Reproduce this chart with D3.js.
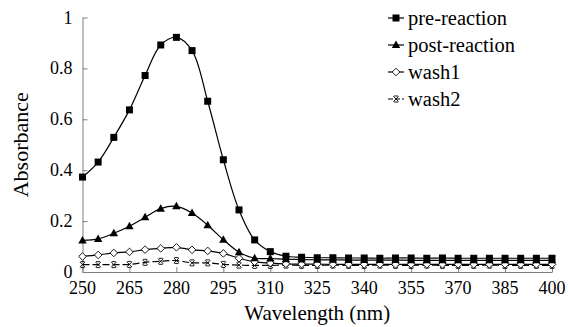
<html>
<head>
<meta charset="utf-8">
<script src="https://cdn.jsdelivr.net/npm/d3@7"></script>
</head>
<body style="margin:0">
<script>
const wavelengths = [250, 255, 260, 265, 270, 275, 280, 285, 290, 295, 300, 305, 310, 315, 320, 325,
    330, 335, 340, 345, 350, 355, 360, 365, 370, 375, 380, 385, 390, 395, 400];

const preReaction = [0.373, 0.432, 0.529, 0.637, 0.772, 0.892, 0.922, 0.870, 0.671, 0.441, 0.244, 0.126,
    0.080, 0.062, 0.058, 0.056, 0.056, 0.055, 0.055, 0.054, 0.055, 0.055, 0.054, 0.055, 0.054, 0.054,
    0.054, 0.054, 0.054, 0.054, 0.054];
const postReaction = [0.124, 0.130, 0.152, 0.180, 0.215, 0.249, 0.258, 0.232, 0.184, 0.127, 0.078, 0.054,
    0.053, 0.050, 0.049, 0.048, 0.048, 0.047, 0.047, 0.047, 0.047, 0.046, 0.046, 0.046, 0.046, 0.046,
    0.046, 0.046, 0.046, 0.046, 0.046];
const wash1 = [0.061, 0.067, 0.075, 0.079, 0.088, 0.093, 0.097, 0.087, 0.083, 0.073, 0.054, 0.040,
    0.035, 0.032, 0.031, 0.031, 0.030, 0.030, 0.030, 0.030, 0.030, 0.030, 0.030, 0.030, 0.030, 0.030,
    0.030, 0.030, 0.030, 0.030, 0.030];
const wash2 = [0.029, 0.029, 0.029, 0.030, 0.038, 0.042, 0.045, 0.036, 0.036, 0.030, 0.027, 0.026,
    0.026, 0.027, 0.026, 0.026, 0.027, 0.026, 0.026, 0.027, 0.026, 0.026, 0.027, 0.026, 0.026, 0.026,
    0.027, 0.026, 0.026, 0.026, 0.026];

const seriesNames = ["pre-reaction", "post-reaction", "wash1", "wash2"];
const seriesValues = [preReaction, postReaction, wash1, wash2];
const markerTypes = ["square", "triangle", "diamond", "star"];

const xTicks = [250, 265, 280, 295, 310, 325, 340, 355, 370, 385, 400];
const yTicks = [0, 0.2, 0.4, 0.6, 0.8, 1];

const width = 568;
const height = 327;
const margin = { top: 17.5, right: 16, bottom: 55, left: 82.5 };

const svg = d3.select("body").append("svg")
    .attr("width", width)
    .attr("height", height);

const x = d3.scaleLinear()
    .domain([250, 400])
    .range([margin.left, width - margin.right]);

const y = d3.scaleLinear()
    .domain([0, 1])
    .range([height - margin.bottom, margin.top]);

const axisColor = "#7f7f7f";

// axes drawn by hand-ish: d3 axis for ticks, labels added as plain text
const xAxis = svg.append("g")
    .attr("transform", `translate(0,${y(0)})`)
    .call(d3.axisBottom(x).tickValues(xTicks).tickSize(-5).tickFormat("").tickSizeOuter(0));

const yAxis = svg.append("g")
    .attr("transform", `translate(${x(250)},0)`)
    .call(d3.axisLeft(y).tickValues(yTicks).tickSize(-5).tickFormat("").tickSizeOuter(0));

svg.selectAll(".domain, .tick line").attr("stroke", axisColor);

svg.selectAll(".xlab")
    .data(xTicks)
    .join("text")
    .attr("x", d => x(d))
    .attr("y", y(0) + 22)
    .attr("text-anchor", "middle")
    .attr("font-family", "serif")
    .attr("font-size", 18)
    .text(d => d);

svg.selectAll(".ylab")
    .data(yTicks)
    .join("text")
    .attr("x", x(250) - 10)
    .attr("y", d => y(d) + 6)
    .attr("text-anchor", "end")
    .attr("font-family", "serif")
    .attr("font-size", 18)
    .text(d => d3.format("")(+d.toFixed(1)));

svg.append("text")
    .attr("x", (x(250) + x(400)) / 2)
    .attr("y", 320)
    .attr("text-anchor", "middle")
    .attr("font-family", "serif")
    .attr("font-size", 21)
    .text("Wavelength (nm)");

svg.append("text")
    .attr("transform", `translate(28,${y(0.5)}) rotate(-90)`)
    .attr("text-anchor", "middle")
    .attr("font-family", "serif")
    .attr("font-size", 22)
    .text("Absorbance");

function drawMarker(g, type, cx, cy) {
    if (type === "square") {
        g.append("rect").attr("x", cx - 3.5).attr("y", cy - 3.5)
            .attr("width", 7).attr("height", 7).attr("fill", "#000");
    } else if (type === "triangle") {
        g.append("path").attr("d", `M${cx},${cy - 4.5}L${cx + 4.2},${cy + 3}L${cx - 4.2},${cy + 3}Z`)
            .attr("fill", "#000");
    } else if (type === "diamond") {
        g.append("path").attr("d", `M${cx},${cy - 3.8}L${cx + 3.8},${cy}L${cx},${cy + 3.8}L${cx - 3.8},${cy}Z`)
            .attr("fill", "#fff").attr("stroke", "#000").attr("stroke-width", 0.9);
    } else {
        g.append("path")
            .attr("d", `M${cx - 2.6},${cy - 2.6}L${cx + 2.6},${cy + 2.6}M${cx + 2.6},${cy - 2.6}L${cx - 2.6},${cy + 2.6}` +
                `M${cx - 2},${cy - 3}L${cx + 2},${cy - 3}M${cx - 2},${cy + 3}L${cx + 2},${cy + 3}`)
            .attr("stroke", "#000").attr("stroke-width", 0.9).attr("fill", "none");
    }
}

const line = d3.line()
    .x((d, i) => x(wavelengths[i]))
    .y(d => y(d))
    .curve(d3.curveCatmullRom.alpha(0.5));

// draw back to front so the pre-reaction squares sit on top
for (let s = seriesValues.length - 1; s >= 0; s--) {
    const g = svg.append("g");
    g.append("path")
        .datum(seriesValues[s])
        .attr("d", line)
        .attr("fill", "none")
        .attr("stroke", "#000")
        .attr("stroke-width", 1.2)
        .attr("stroke-dasharray", markerTypes[s] === "star" ? "7,3" : null);
    seriesValues[s].forEach((v, i) => drawMarker(g, markerTypes[s], x(wavelengths[i]), y(v)));
}

// legend
seriesNames.forEach((name, i) => {
    const ly = 18 + i * 27;
    const g = svg.append("g");
    g.append("line")
        .attr("x1", 388).attr("x2", 404).attr("y1", ly).attr("y2", ly)
        .attr("stroke", "#000").attr("stroke-width", 1.2)
        .attr("stroke-dasharray", markerTypes[i] === "star" ? "5,2" : null);
    drawMarker(g, markerTypes[i], 396, ly);
    g.append("text")
        .attr("x", 408).attr("y", ly + 7)
        .attr("font-family", "serif")
        .attr("font-size", 20.5)
        .text(name);
});
</script>
</body>
</html>
